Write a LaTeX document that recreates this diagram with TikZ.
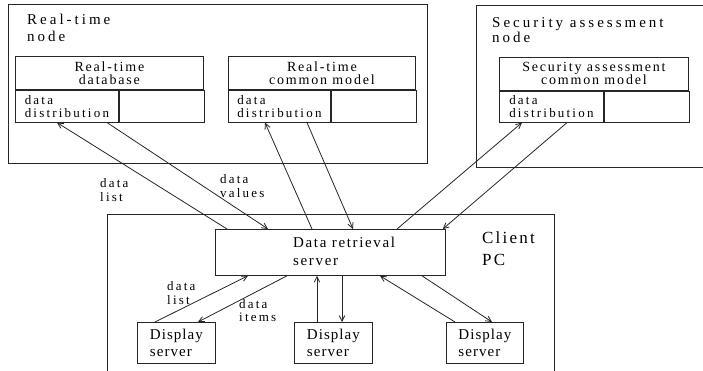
\documentclass[tikz,border=0pt]{standalone}
\usepackage{fontspec}
\setmainfont{Liberation Serif}
\newfontfamily\myfnode[LetterSpace=20]{Liberation Serif}
\newfontfamily\myftitle[LetterSpace=13]{Liberation Serif}
\newfontfamily\myfsmall[LetterSpace=17]{Liberation Serif}
\newfontfamily\myfdrs[LetterSpace=11]{Liberation Serif}
\newfontfamily\myfdisp[LetterSpace=7]{Liberation Serif}
\newfontfamily\myfclient[LetterSpace=13]{Liberation Serif}
\usetikzlibrary{arrows.meta}
\begin{document}
\begin{tikzpicture}[x=1pt,y=-1pt]
\tikzset{
  ln/.style={line width=0.8pt, draw=black!85},
  bx/.style={ln, rectangle, inner sep=0pt, anchor=north west},
  frm/.style={rectangle, draw=none, inner sep=0pt, anchor=north west},
  ttl/.style={bx, align=center, font=\myftitle\fontsize{14}{13}\selectfont},
  cell/.style={bx, align=left, font=\myfsmall\fontsize{13}{13}\selectfont},
  disp/.style={bx, align=left, font=\myfdisp\fontsize{15}{17}\selectfont, minimum height=41pt},
  lbl/.style={inner sep=0pt, anchor=north west, align=left},
  small/.style={lbl, font=\myfsmall\fontsize{13}{12.5}\selectfont},
  arr/.style={ln, -{Straight Barb[length=5.5pt,width=5.5pt]}},
}
\fill[white] (0,0) rectangle (703,371);
\useasboundingbox (0,0) rectangle (703,371);

% Real-time node
\node[bx, minimum width=419pt, minimum height=159pt] (rtnode) at (8,4) {};
\node[lbl, font=\myfnode\fontsize{15}{17}\selectfont] (rtlbl) at (27,12.1) {\strut Real-time\\node};

\node[ttl, minimum width=188pt, minimum height=33pt] (rtdb) at (15,56) {Real-time\\database};
\node[cell, minimum width=103pt, minimum height=32pt] (rtdbd) at (rtdb.south west) {data\\distribution};
\node[bx, minimum width=85pt, minimum height=32pt] (rtdbe) at (rtdbd.north east) {};

\node[ttl, minimum width=187pt, minimum height=33pt] (rtcm) at (228,56) {Real-time\\common model};
\node[cell, minimum width=102pt, minimum height=32pt] (rtcmd) at (rtcm.south west) {data\\distribution};
\node[bx, minimum width=85pt, minimum height=32pt] (rtcme) at (rtcmd.north east) {};

% Security assessment node
\node[frm, minimum width=227pt, minimum height=162pt] (sanode) at (476,5) {};
\draw[ln] (sanode.north east) -- (sanode.north west) -- (sanode.south west) -- (sanode.south east);
\node[lbl, font=\myfnode\fontsize{15}{15}\selectfont] (salbl) at (492,16.5) {\strut Security assessment\\node};

\node[ttl, minimum width=189pt, minimum height=33pt] (sacm) at (499,57) {Security assessment\\common model};
\node[cell, minimum width=104pt, minimum height=31pt] (sacmd) at (sacm.south west) {data\\distribution};
\node[bx, minimum width=85pt, minimum height=31pt] (sacme) at (sacmd.north east) {};

% Client PC
\node[frm, minimum width=447pt, minimum height=157pt] (client) at (107,214) {};
\draw[ln] (client.south west) -- (client.north west) -- (client.north east) -- (client.south east);
\node[lbl, font=\myfclient\fontsize{17}{22}\selectfont] (clientlbl) at (482,227.6) {\strut Client\\PC};

\node[bx, minimum width=230pt, minimum height=46pt] (drs) at (215,229) {};
\node[lbl, font=\myfdrs\fontsize{15}{18}\selectfont] (drslbl) at (293,234.4) {\strut Data retrieval\\server};

\node[disp, minimum width=78pt] (ds1) at (137,322) {Display\\server};
\node[disp, minimum width=78pt] (ds2) at (294,322) {Display\\server};
\node[disp, minimum width=77pt] (ds3) at (446,322) {Display\\server};

% labels
\node[small] (l1) at (100,178.25) {\strut data\\list};
\node[small] (l2) at (220,174.25) {\strut data\\values};
\node[small] (l3) at (167,281.6) {\strut data\\list};
\node[small] (l4) at (239,299.6) {\strut data\\items};

% upper arrows
\draw[arr] ([xshift=12pt]drs.north west) -- ([xshift=42pt]rtdbd.south west);
\draw[arr] ([xshift=92pt]rtdbd.south west) -- ([xshift=53pt]drs.north west);
\draw[arr] ([xshift=97pt]drs.north west) -- ([xshift=37pt]rtcmd.south west);
\draw[arr] ([xshift=79pt]rtcmd.south west) -- ([xshift=138pt]drs.north west);
\draw[arr] ([xshift=182pt]drs.north west) -- ([xshift=23pt]sacmd.south west);
\draw[arr] ([xshift=68pt]sacmd.south west) -- ([xshift=-3pt]drs.north east);

% lower arrows
\draw[arr] ([xshift=18pt]ds1.north west) -- ([xshift=33pt]drs.south west);
\draw[arr] ([xshift=72pt]drs.south west) -- ([xshift=61pt]ds1.north west);
\draw[arr] ([xshift=23pt]ds2.north west) -- ([xshift=102pt]drs.south west);
\draw[arr] ([xshift=127pt]drs.south west) -- ([xshift=48pt]ds2.north west);
\draw[arr] ([xshift=9pt]ds3.north west) -- ([xshift=165pt]drs.south west);
\draw[arr] ([xshift=207pt]drs.south west) -- ([xshift=46pt]ds3.north west);
\end{tikzpicture}
\end{document}
